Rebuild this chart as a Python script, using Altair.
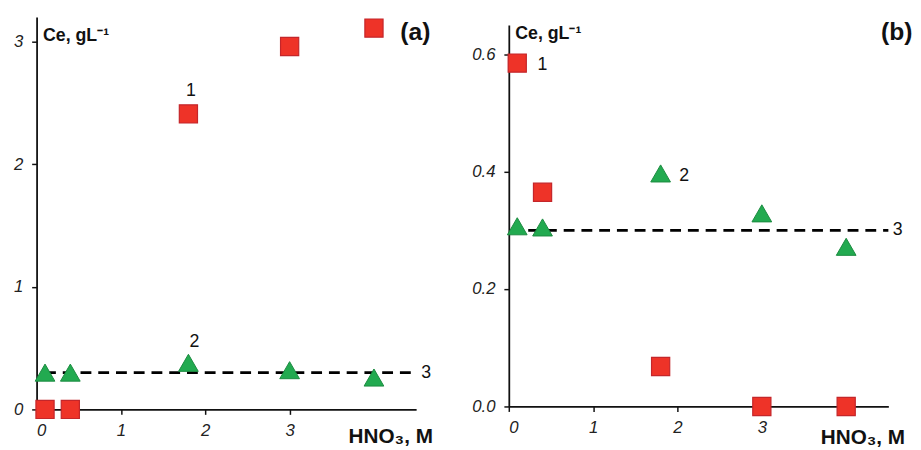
import altair as alt
import pandas as pd

# ---- data ----
hno3 = [0.1, 0.4, 1.8, 3.0, 4.0]
ce_sq_a = [0.0, 0.0, 2.41, 2.96, 3.11]
ce_tri_a = [0.30, 0.30, 0.38, 0.32, 0.26]
ce_sq_b = [0.585, 0.365, 0.068, 0.0, 0.0]
ce_tri_b = [0.307, 0.305, 0.397, 0.329, 0.272]
ref_level = 0.3
ref_x_a = [0.1, 4.5]
ref_x_b = [0.23, 4.5]
x_ticks = [0, 1, 2, 3]
y_ticks_a = [0, 1, 2, 3]
y_ticks_b = [0.0, 0.2, 0.4, 0.6]
lab_text = ["1", "2", "3"]
lab_x_a = [1.83, 1.87, 4.62]
lab_y_a = [2.6, 0.55, 0.3]
lab_x_b = [0.40, 2.08, 4.61]
lab_y_b = [0.582, 0.393, 0.3]
panel_names = ["(a)", "(b)"]
panel_x_a = 4.49
panel_x_b = 4.6
panel_y_a = 3.08
panel_y_b = 0.638

FONT = "Liberation Sans"
RED, RED_S = "#ee3328", "#c4262a"
GREEN, GREEN_S = "#22aa50", "#1b8a40"


def panel(sq, tri, ref_x, yticks, yfmt, ydom, h, lx, ly, pname, px, py, ytitle_y, xtitle_y):
    xs = alt.Scale(domain=[0, 4.5], nice=False, zero=False)
    ys = alt.Scale(domain=ydom, nice=False, zero=False)
    xax = alt.Axis(values=x_ticks, format="d", title="HNO₃, M",
                   titleAlign="left", titleBaseline="alphabetic",
                   titleX=316, titleY=xtitle_y, titleAnchor="start")
    yax = alt.Axis(values=yticks, format=yfmt, title="Ce, gL⁻¹",
                   titleAngle=0, titleAlign="left", titleBaseline="alphabetic",
                   titleX=6, titleY=ytitle_y, titleAnchor="start")
    X = alt.X("x:Q", scale=xs, axis=xax)
    Y = alt.Y("y:Q", scale=ys, axis=yax)

    df_sq = pd.DataFrame({"x": hno3, "y": sq})
    df_tri = pd.DataFrame({"x": hno3, "y": tri})
    df_ref = pd.DataFrame({"x": [ref_x[0]], "x2": [ref_x[1]], "y": [ref_level]})
    df_lab = pd.DataFrame({"x": lx, "y": ly, "t": lab_text})
    df_pan = pd.DataFrame({"x": [px], "y": [py], "t": [pname]})

    ref = alt.Chart(df_ref).mark_rule(color="black", strokeWidth=3, strokeDash=[11, 7]).encode(
        x=X, x2="x2:Q", y=Y)
    tris = alt.Chart(df_tri).mark_point(shape="triangle-up", filled=True, size=400, fill=GREEN,
                                         stroke=GREEN_S, strokeWidth=1, opacity=1).encode(x=X, y=Y)
    sqs = alt.Chart(df_sq).mark_point(shape="square", filled=True, size=340, fill=RED,
                                       stroke=RED_S, strokeWidth=1.2, opacity=1).encode(x=X, y=Y)
    labs = alt.Chart(df_lab).mark_text(font=FONT, fontSize=18, color="#111",
                                        align="center", baseline="middle").encode(x=X, y=Y, text="t:N")
    pan = alt.Chart(df_pan).mark_text(font=FONT, fontSize=25, fontWeight="bold", color="#111",
                                       align="center", baseline="middle").encode(x=X, y=Y, text="t:N")
    return alt.layer(ref, tris, sqs, labs, pan).properties(width=385, height=h)


left = panel(ce_sq_a, ce_tri_a, ref_x_a, y_ticks_a, "d", [0, 3.2], 398,
             lab_x_a, lab_y_a, panel_names[0], panel_x_a, panel_y_a, 24, 34)
right = panel(ce_sq_b, ce_tri_b, ref_x_b, y_ticks_b, ".1f", [0, 0.65], 387,
              lab_x_b, lab_y_b, panel_names[1], panel_x_b, panel_y_b, 14, 38)

spacer = alt.Chart(pd.DataFrame({"v": [0]})).mark_point(size=0, opacity=0).encode(
    x=alt.value(0), y=alt.value(0)).properties(width=1, height=1)
right_col = alt.vconcat(spacer, right, spacing=7, bounds="flush")

chart = alt.hconcat(left, right_col, spacing=94, bounds="flush").properties(
    padding={"left": 5, "top": 5, "right": 0, "bottom": 0}
).configure_view(stroke=None).configure_axis(
    grid=False, domainColor="#111", domainWidth=1.8, tickColor="#111", tickWidth=1.5, tickSize=5,
    labelFont=FONT, labelFontSize=17, labelFontStyle="italic", labelColor="#222", labelPadding=9,
    titleFont=FONT, titleFontSize=18, titleFontWeight="bold", titleColor="#111"
).configure_axisX(labelPadding=8, titleFontSize=21).configure_concat(spacing=0)

chart.save("out.html", embed_options={"renderer": "svg", "actions": False})
